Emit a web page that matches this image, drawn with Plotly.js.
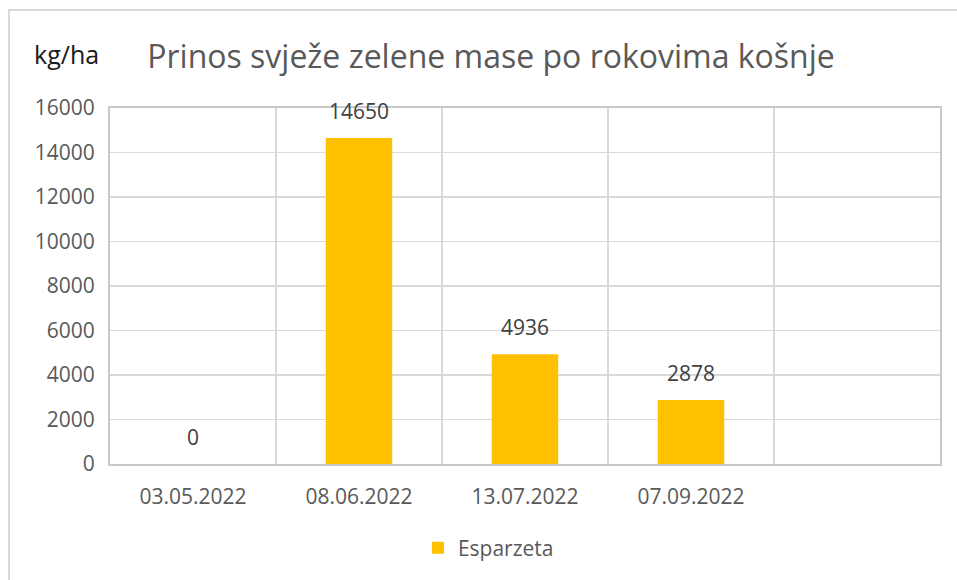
<!DOCTYPE html>
<html>
<head>
<meta charset="utf-8">
<script src="https://cdn.plot.ly/plotly-3.0.1.min.js"></script>
<style>html,body{margin:0;padding:0;background:#fff;}#chart{width:957px;height:580px;}</style>
</head>
<body>
<div id="chart"></div>
<script>
var categories = ["03.05.2022", "08.06.2022", "13.07.2022", "07.09.2022"];
var values = [0, 14650, 4936, 2878];
var seriesName = "Esparzeta";
var yTicks = [0, 2000, 4000, 6000, 8000, 10000, 12000, 14000, 16000];
var titleText = "Prinos svježe zelene mase po rokovima košnje";
var unitText = "kg/ha";

var FONT = "Open Sans, Noto Sans, sans-serif";

var L = 110, R = 17, T = 108, B = 116, W = 957, H = 580;
var pw = W - L - R, ph = H - T - B;

var trace = {
  type: "bar",
  x: categories,
  y: values,
  name: seriesName,
  marker: {color: "#FFC000"},
  hoverinfo: "none"
};

var annotations = categories.map(function(c, i){
  return {x: c, y: values[i], xref: "x", yref: "y", text: String(values[i]),
    showarrow: false, yanchor: "middle", yshift: 27,
    font: {family: FONT, size: 21, color: "#404040"}};
});
annotations.push({x: (66 - L) / pw, y: (H - B - 54) / ph, xref: "paper", yref: "paper",
  text: unitText, showarrow: false, xanchor: "center", yanchor: "middle",
  font: {family: FONT, size: 25, color: "#1a1a1a"}});

var layout = {
  width: W, height: H,
  margin: {l: L, r: R, t: T, b: B},
  paper_bgcolor: "#fff", plot_bgcolor: "#fff",
  title: {text: titleText, font: {family: FONT, size: 32, color: "#595959"},
    x: 491 / W, xref: "container", xanchor: "center", y: 1 - 57 / H, yref: "container", yanchor: "middle"},
  showlegend: true,
  legend: {orientation: "h", x: 0.371, xanchor: "left", y: (464 - 548) / ph, yanchor: "middle",
    font: {family: FONT, size: 21, color: "#595959"}},
  bargap: 0.6,
  xaxis: {type: "category", range: [-0.5, 4.5], tickson: "boundaries", showgrid: true,
    gridcolor: "#d9d9d9", gridwidth: 1.5, ticks: "", showline: true, linecolor: "#c9c9c9", linewidth: 2, mirror: true,
    tickfont: {family: FONT, size: 21, color: "#595959"}, ticklabelstandoff: 13, fixedrange: true},
  yaxis: {range: [0, 16000], tickvals: yTicks, ticktext: yTicks.map(String), showgrid: true,
    gridcolor: "#d9d9d9", gridwidth: 1.5, zeroline: false, showline: true, linecolor: "#c9c9c9", linewidth: 2, mirror: true,
    tickfont: {family: FONT, size: 21, color: "#595959"}, ticklabelstandoff: 9, fixedrange: true},
  annotations: annotations,
  shapes: [{type: "rect", xref: "paper", yref: "paper",
    x0: (9 - L) / pw, x1: (W + 20 - L) / pw, y0: (H - B - (H + 20)) / ph, y1: (H - B - 10) / ph,
    line: {color: "#d9d9d9", width: 2}, fillcolor: "rgba(0,0,0,0)", layer: "below"}]
};

Plotly.newPlot("chart", [trace], layout, {displayModeBar: false, staticPlot: true});
</script>
</body>
</html>
